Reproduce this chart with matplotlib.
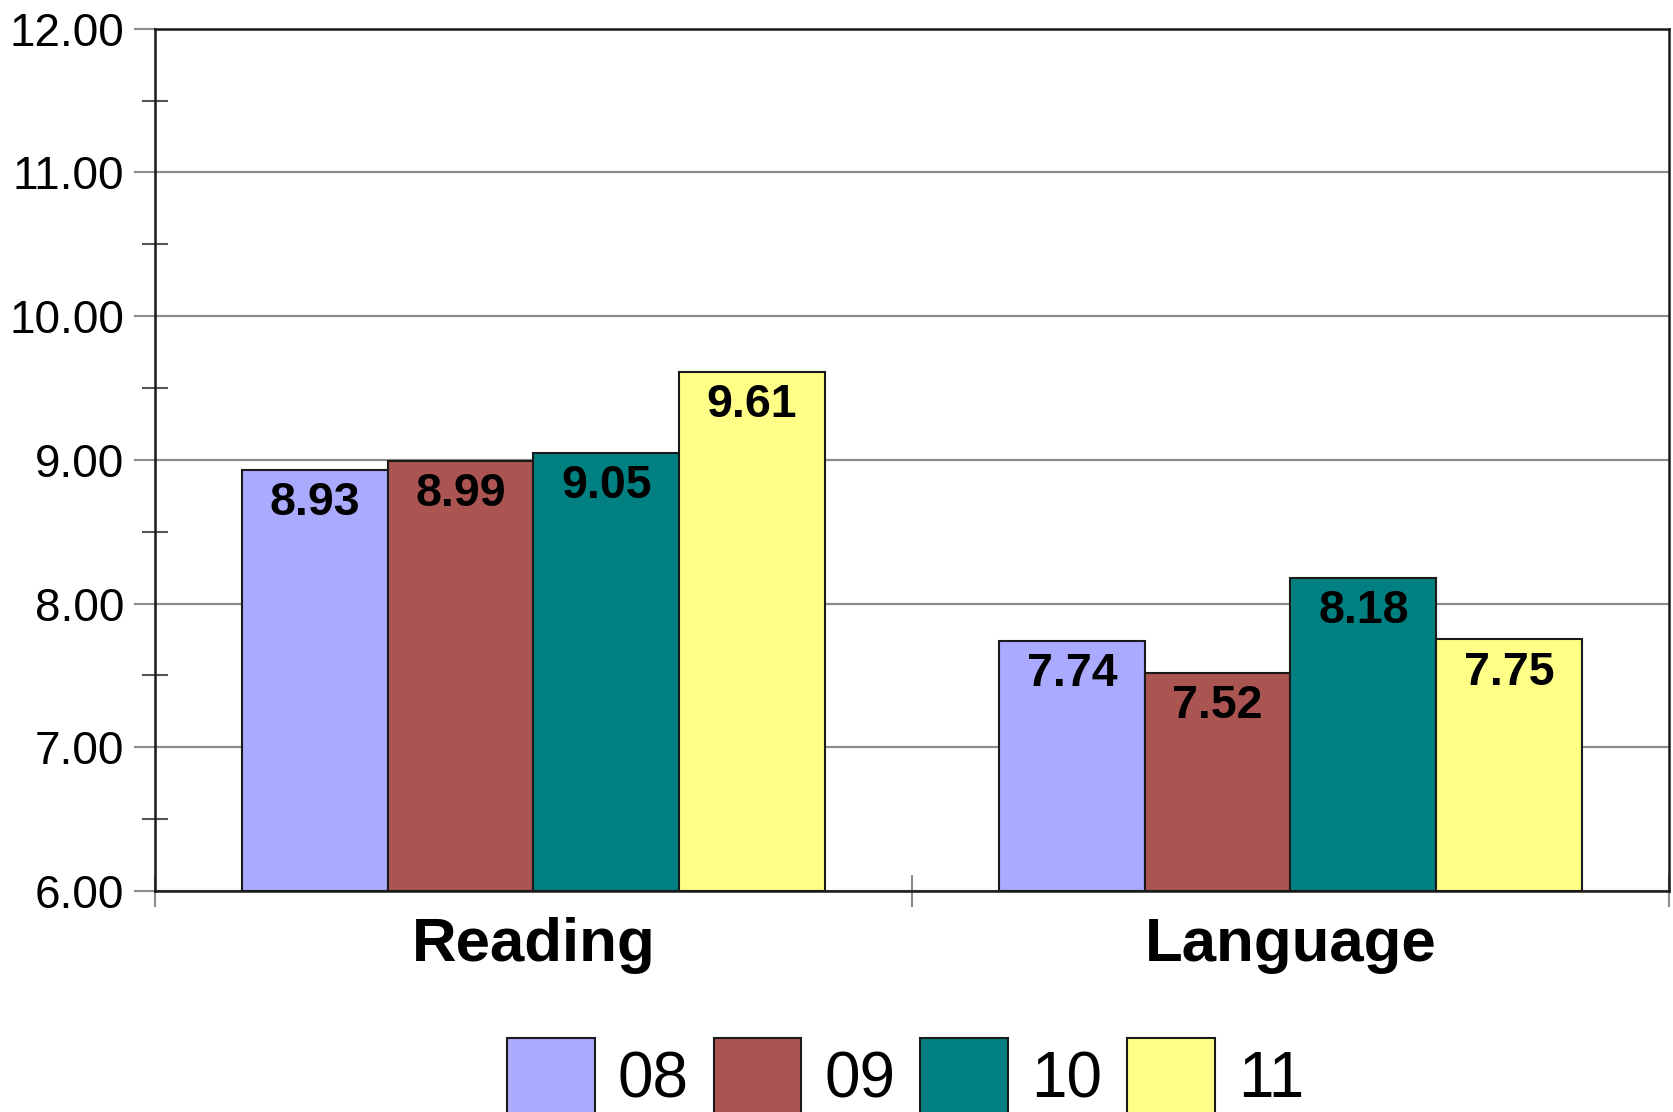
import matplotlib
matplotlib.use("Agg")
import matplotlib.pyplot as plt
import numpy as np
from matplotlib.patches import Patch

plt.rcParams['font.family'] = ['Liberation Sans', 'DejaVu Sans']

categories = ["Reading", "Language"]
series_names = ["08", "09", "10", "11"]
values = {
    "08": [8.93, 7.74],
    "09": [8.99, 7.52],
    "10": [9.05, 8.18],
    "11": [9.61, 7.75],
}
colors = ["#AAAAFF", "#AB5552", "#008080", "#FFFF88"]
y_ticks = [6, 7, 8, 9, 10, 11, 12]

fig = plt.figure(figsize=(16.74, 11.12), dpi=100)
ax = fig.add_axes([155/1674, 1-891/1112, (1669-155)/1674, (891-28.7)/1112])

x = np.arange(len(categories))
bw = 0.1925
n = len(series_names)
for i, (name, col) in enumerate(zip(series_names, colors)):
    pos = x + (i - (n-1)/2) * bw
    vals = values[name]
    ax.bar(pos, np.array(vals) - 6, bottom=6, width=bw, color=col,
           edgecolor='#1a1a1a', linewidth=1.5, zorder=3)
    for xp, v in zip(pos, vals):
        ax.annotate(f"{v:.2f}", xy=(xp, v), xytext=(0, -8), textcoords='offset points',
                    ha='center', va='top', fontsize=33.5, fontweight='bold', zorder=4)

ax.set_xlim(-0.5, 1.5)
ax.set_ylim(6, 12)
ax.set_yticks(y_ticks)
ax.set_yticklabels([f"{t:.2f}" for t in y_ticks])
ax.set_yticks(np.arange(6.5, 12, 1.0), minor=True)
ax.grid(axis='y', which='major', color='#8c8c8c', linewidth=1.6, zorder=0)
ax.tick_params(axis='y', which='major', direction='out', length=15, width=1.5,
               color='#8c8c8c', labelsize=33, pad=7)
ax.tick_params(axis='y', which='minor', direction='inout', length=19, width=1.5,
               color='#555555')

ax.set_xticks([-0.5, 0.5, 1.5])
ax.set_xticklabels([])
ax.set_xticks(x, minor=True)
ax.set_xticklabels(categories, minor=True)
ax.tick_params(axis='x', which='major', direction='inout', length=23, width=1.5,
               color='#8c8c8c')
ax.tick_params(axis='x', which='minor', length=0, labelsize=44.5, pad=19)
for lab in ax.get_xticklabels(minor=True):
    lab.set_fontweight('bold')

for side in ['left', 'bottom', 'top', 'right']:
    ax.spines[side].set_color('#1a1a1a')
    ax.spines[side].set_linewidth(1.8)
    ax.spines[side].set_zorder(5)

handles = [Patch(facecolor=c, edgecolor='#1a1a1a', linewidth=1.5) for c in colors]
fig.legend(handles, series_names, loc='center', bbox_to_anchor=(905.5/1674, 1-1076/1112),
           ncol=4, frameon=False, fontsize=46, handlelength=1.375, handleheight=1.45,
           handletextpad=0.36, columnspacing=0.39, borderpad=0)

fig.savefig("out.png", dpi=100)
